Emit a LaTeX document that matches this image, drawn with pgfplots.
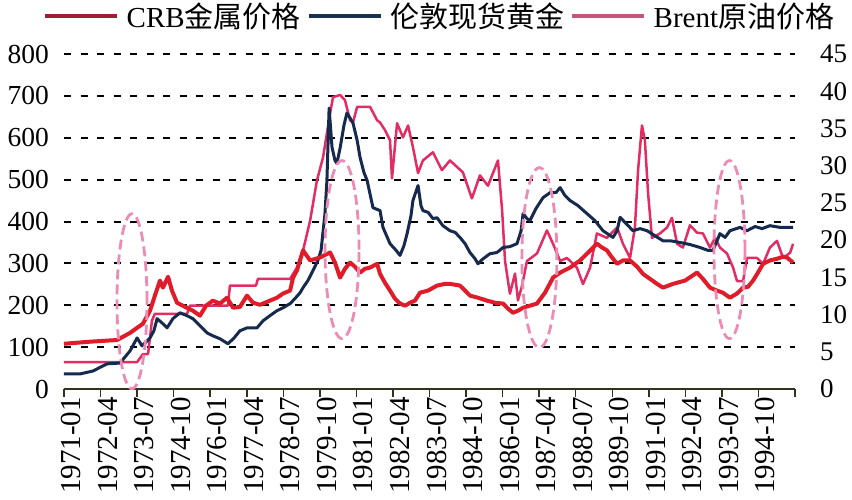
\documentclass[border=0pt]{standalone}
\usepackage{fontspec}
\setmainfont{Liberation Serif}
\newfontfamily\cjk{Noto Sans CJK SC}
\usepackage{pgfplots}
\pgfplotsset{compat=1.18}
\definecolor{crb}{RGB}{225,28,42}
\definecolor{gold}{RGB}{22,42,78}
\definecolor{brent}{RGB}{226,45,100}
\definecolor{crbleg}{RGB}{160,30,50}
\definecolor{goldleg}{RGB}{25,50,80}
\definecolor{brentleg}{RGB}{195,85,120}
\definecolor{ell}{RGB}{236,140,180}
\definecolor{axc}{RGB}{50,50,35}
\begin{document}
\begin{tikzpicture}
\begin{axis}[
  at={(64pt,110pt)}, anchor=south west,
  scale only axis, width=731pt, height=335pt,
  xmin=0, xmax=300, ymin=0, ymax=800,
  axis x line*=bottom, axis y line*=left,
  y axis line style={draw=none},
  x axis line style={axc, line width=1.8pt, -},
  xtick={0,15,...,300},
  xticklabels={1971-01,1972-04,1973-07,1974-10,1976-01,1977-04,1978-07,1979-10,1981-01,1982-04,1983-07,1984-10,1986-01,1987-04,1988-07,1989-10,1991-01,1992-04,1993-07,1994-10,{}},
  tick align=outside, major tick length=8pt,
  xtick style={axc, line width=1.5pt},
  ytick={0,100,...,800}, ytick style={draw=none},
  ymajorgrids, grid style={draw=black, line width=2pt, dash pattern=on 7pt off 9.5pt},
  tick label style={font=\fontsize{27.5}{29}\selectfont},
  xticklabel style={rotate=90, anchor=east, inner sep=0pt, yshift=-7pt, font=\fontsize{29}{31}\selectfont},
  yticklabel style={anchor=east, inner sep=0pt, xshift=-7pt},
  /pgf/number format/assume math mode=true,
  legend image code/.code={\draw[#1] (0pt,0pt) -- (72pt,0pt);},
  legend style={at={(-0.0287,1.113)}, anchor=west, draw=none, fill=none, inner sep=0pt,
    nodes={inner sep=0pt},
    font=\fontsize{29}{31}\selectfont,
    /tikz/every odd column/.append style={column sep=7pt},
    /tikz/every even column/.append style={column sep=6pt}},
  legend columns=3, legend cell align=left,
  clip=false,
]
\addlegendimage{crbleg, line width=4.5pt}
\addlegendentry{CRB{\cjk 金属价格}}
\addlegendimage{goldleg, line width=4.5pt}
\addlegendentry{{\cjk 伦敦现货黄金}}
\addlegendimage{brentleg, line width=4.5pt}
\addlegendentry{Brent{\cjk 原油价格}}

% Brent (right axis values, scaled onto left axis)
\addplot[brent, line width=2.5pt, line join=round, forget plot] table[x=m, y expr=\thisrow{v}*800/45] {
m v
0 3.6
30 3.6
32.4 4.7
34.5 4.7
36.1 9.2
37.3 10.1
50.5 10.1
51.7 11.2
67.3 11.2
68.1 13.9
78.8 13.9
79.6 14.8
92.8 14.8
95.6 16.3
98.1 18.6
101 22.6
103.8 28
106.3 31.1
109.2 37
110.4 39.2
113.3 39.5
115.3 38.8
117.4 36.1
118.6 35.8
120.3 37.9
125.6 37.9
128.5 36.1
129.7 35.8
131.7 34.8
133.8 33.4
134.6 28.3
136.7 35.7
139.1 33.8
141.2 35.4
143.2 32.5
145.3 29
147.3 30.7
151.4 31.8
155.1 29.4
158.4 30.7
163.7 29.1
167.4 25.6
170.7 28.7
174 27.3
178.1 30.7
179.8 24
181 17.2
183 12.8
185.1 15.5
186.3 11.9
188 13.9
190 17.2
194.1 18.2
198.2 21.3
200.7 19.5
203.6 17.2
206.4 17.6
210.5 16.3
213 14.1
215.9 16.3
218.7 20.9
222.8 20.3
227 21.7
229.4 19.5
232.3 17.6
234.3 21.7
235.6 29.4
237.2 35.4
238.4 33.4
239.7 26.3
241.3 20.3
244.6 20.9
247.5 21.7
249.5 23
251.6 19.5
254 19
256.9 22
259.8 21
262.2 20.9
265.1 19
267.2 20.3
269.2 19
272.1 18.2
274.6 16.3
276.2 14.5
278.7 14.5
280.3 17.6
284.4 17.6
286.9 16.8
289.7 19
292.6 19.9
295.1 17.6
298 18.3
299.2 19.5
};

% London spot gold
\addplot[gold, line width=3pt, line join=round, forget plot] coordinates {
(0,36) (6.6,36) (11.9,43) (17.6,60) (23,62) (27.1,91) (30,122) (32,103) (35.3,122) (36.9,139) (38.2,168) (40.2,158) (42.3,146) (44.7,168) (47.6,182) (50.5,175) (52.9,168) (55.8,151) (58.7,134) (61.1,127) (64,120) (67.3,108) (69.8,122) (72.2,139) (75.1,146) (79.2,146) (81.7,163) (84.5,175) (87.4,187) (89.9,194) (92.8,204) (94.8,216) (96.9,230) (98.1,242) (100.1,259) (102.2,283) (104.2,307) (105.5,331) (107.1,419) (107.9,498) (108.8,671) (110,577) (111.2,546) (112,539) (113.3,575) (114.9,630) (116.1,659) (117.4,647) (118.6,635) (120.3,594) (121.5,553) (123.1,517) (124.4,498) (126.8,433) (129.7,426) (130.9,386) (133.8,347) (136.3,331) (137.9,319) (139.5,342) (140.8,371) (142.4,414) (143.2,450) (145.3,486) (146.5,438) (147.3,426) (149.4,422) (151.4,407) (153.1,409) (155.5,390) (158.4,378) (160.5,374) (162.5,362) (164.6,347) (166.6,326) (168.7,311) (169.9,299) (172,311) (174.8,323) (177.7,326) (180.2,338) (183,340) (185.9,347) (187.6,378) (188.4,419) (190,407) (191.2,402) (193.7,431) (196.6,457) (199.5,469) (201.9,469) (203.6,481) (205.6,462) (207.7,450) (210.9,438) (214.6,419) (217.9,402) (221.2,378) (225.3,362) (227,378) (228.2,410) (230.2,398) (233.5,378) (236.4,383) (239.3,378) (242.5,366) (245.8,354) (248.7,354) (252.8,350) (256.9,345) (261,338) (264.3,331) (266.3,331) (268,354) (269.2,371) (271.3,362) (273.3,378) (277.4,386) (280.3,378) (283.6,388) (286.5,383) (289.7,390) (293.8,386) (299.2,386)
};

% CRB metals
\addplot[crb, line width=4pt, line join=round, forget plot] coordinates {
(0,108) (10.7,113) (21.8,117) (27.1,134) (32.4,156) (35.3,187) (37.3,223) (39.4,259) (40.6,242) (42.7,268) (44.3,235) (46.4,206) (49.7,196) (52.9,187) (55.8,175) (58.3,199) (61.1,211) (64,204) (66.9,218) (69.4,194) (72.2,196) (75.1,223) (77.6,206) (80.4,201) (84.5,211) (87.4,218) (89.9,228) (92.8,235) (94,266) (95.6,283) (98.1,331) (101,307) (105,314) (109.2,326) (111.2,302) (113.3,266) (115.3,287) (117.4,302) (119.4,292) (121.5,278) (123.5,287) (125.6,290) (128.5,299) (129.7,275) (131.7,254) (133.8,235) (135.8,216) (137.9,204) (140,199) (142,206) (144,211) (146.1,230) (149.4,235) (153.1,247) (156.4,251) (158.4,251) (160.5,249) (162.5,247) (164.6,235) (166.6,223) (169.9,218) (173.6,211) (176.9,206) (180.2,204) (182.2,192) (184.3,182) (186.3,187) (188.4,194) (191.2,199) (194.1,204) (197.4,230) (200.7,266) (203.6,278) (207.7,290) (211.8,307) (214.6,323) (216.7,335) (218.7,347) (220.8,338) (222.8,331) (224.9,314) (227,299) (229.4,307) (232.3,307) (235.2,292) (237.6,275) (240.5,263) (243.4,251) (245.8,242) (249.9,251) (254.9,259) (259.8,278) (262.2,263) (265.1,242) (268,235) (270.4,230) (273.3,218) (276.2,228) (278.7,242) (280.7,244) (282.8,259) (284.8,278) (286.9,299) (289.7,307) (292.6,311) (295.1,316) (296.7,314) (299.2,302)
};

% dashed highlight ellipses
\draw[ell, line width=2.8pt, dash pattern=on 10pt off 5pt] (axis cs:27.9,209.6) ellipse [x radius=15pt, y radius=87.5pt];
\draw[ell, line width=2.8pt, dash pattern=on 10pt off 5pt] (axis cs:114.1,332.9) ellipse [x radius=17pt, y radius=89pt];
\draw[ell, line width=2.8pt, dash pattern=on 10pt off 5pt] (axis cs:195.1,313.7) ellipse [x radius=17.5pt, y radius=90pt];
\draw[ell, line width=2.8pt, dash pattern=on 10pt off 5pt] (axis cs:273.1,332.9) ellipse [x radius=15.5pt, y radius=89pt];
\end{axis}

\begin{axis}[
  at={(64pt,110pt)}, anchor=south west,
  scale only axis, width=731pt, height=335pt,
  xmin=0, xmax=300, ymin=0, ymax=45,
  axis x line=none, axis y line*=right,
  y axis line style={draw=none},
  ytick={0,5,...,45}, ytick style={draw=none},
  tick label style={font=\fontsize{27}{29}\selectfont},
  yticklabel style={anchor=west, inner sep=0pt, xshift=25pt},
  /pgf/number format/assume math mode=true,
]
\addplot[draw=none, forget plot] coordinates {(0,0) (300,45)};
\end{axis}
\pgfresetboundingbox
\path[use as bounding box] (0,0) rectangle (852pt,499pt);
\end{tikzpicture}
\end{document}
